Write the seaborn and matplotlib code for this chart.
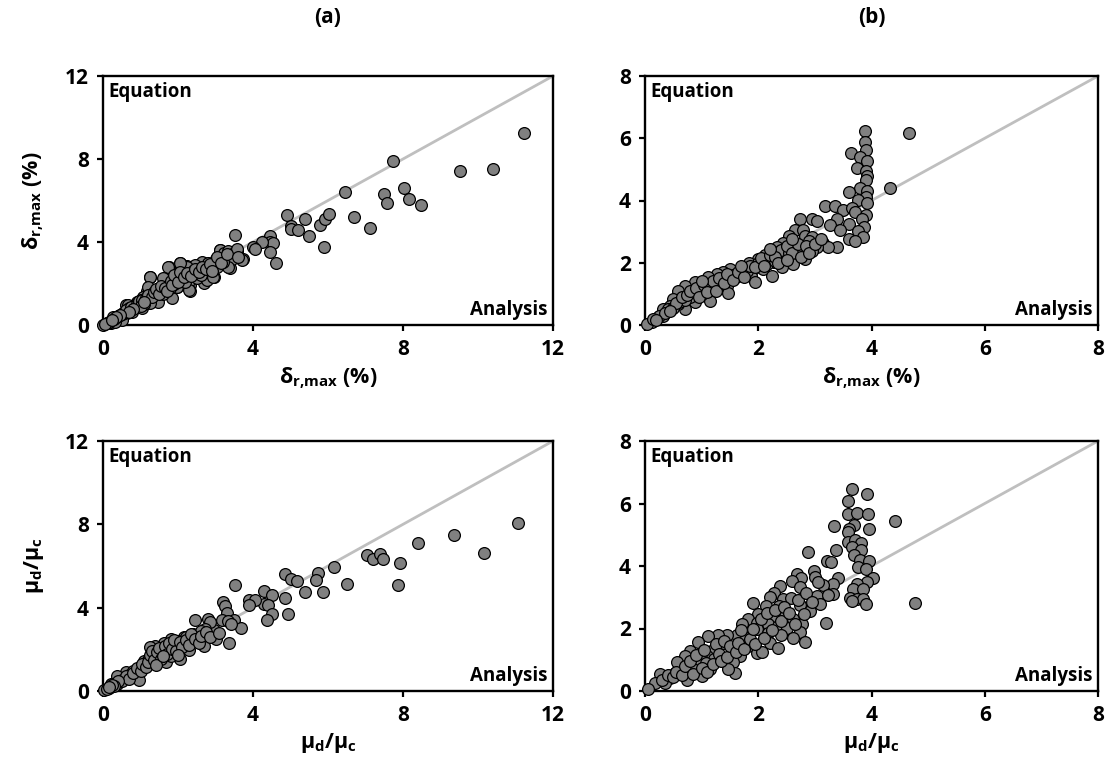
import numpy as np
import pandas as pd
import matplotlib
matplotlib.use("Agg")
import matplotlib.pyplot as plt
import seaborn as sns

# ---- data ----
# (a) top: delta_r,max analysis vs equation
a_top_x = [11.22, 7.72, 9.51, 10.4, 8.04, 7.48, 7.57, 8.15, 8.48, 6.44, 6.68, 7.13, 4.91, 5.38, 5.02, 5.0,
           5.19, 5.50, 5.79, 5.93, 6.02, 5.88, 4.46, 4.46, 4.53, 4.46, 4.61, 4.24, 4.0, 4.04, 3.53, 3.57,
           3.72, 3.44, 3.38, 3.13, 3.22, 2.95, 2.95, 2.68, 2.68, 2.51, 2.33, 2.31, 2.24, 2.04, 1.76, 1.80,
           1.26, 1.84, 2.11, 1.96, 1.71, 1.44, 1.17, 1.08, 0.91, 0.6, 0.64, 0.37, 0.2,
           3.12, 3.23, 3.34, 3.48, 3.56, 3.43, 3.70, 3.34, 3.21, 2.94, 3.03, 2.81, 2.63, 2.59, 2.67, 2.45,
           2.41, 2.32, 2.28, 2.23, 2.05, 2.10, 1.96, 1.88, 1.74, 1.70, 1.61, 1.52, 1.43, 1.34, 1.25, 1.21,
           1.17, 1.07, 0.99, 0.90, 0.81, 0.67, 0.63, 0.54, 0.45, 0.36, 0.27, 0.19, 0.10, 0.01, 1.47, 1.79,
           2.19, 2.50, 2.76, 2.94, 1.25, 1.03, 0.77, 0.50, 0.32,
           1.0, 1.1, 1.3, 1.5, 1.6, 1.9, 2.0, 2.2, 2.4, 2.6, 2.8, 3.0, 0.7, 0.85, 0.4, 0.55, 0.3, 0.15, 0.05,
           0.5, 0.6, 0.75, 0.9, 0.95, 1.05, 1.15, 1.2, 1.3, 1.35, 1.4, 1.5, 1.55, 1.65, 1.7, 1.8, 1.85, 1.9,
           2.0, 2.05, 2.15, 2.25, 2.35, 2.45, 2.55, 2.65, 2.75, 2.85, 3.05, 3.15, 1.0, 1.1, 0.8, 0.7, 0.45,
           0.35, 0.25, 2.9, 3.3, 3.6]
a_top_y = [9.27, 7.92, 7.42, 7.50, 6.62, 6.31, 5.86, 6.06, 5.80, 6.39, 5.20, 4.69, 5.32, 5.09, 4.79, 4.61,
           4.58, 4.29, 4.84, 5.09, 5.37, 3.76, 4.29, 4.02, 3.94, 3.50, 2.99, 4.02, 3.78, 3.66, 4.34, 3.58,
           3.16, 3.21, 2.76, 3.61, 3.29, 2.81, 2.30, 3.00, 2.04, 2.65, 1.93, 1.64, 2.86, 2.97, 2.78, 2.49,
           2.33, 1.29, 2.49, 1.85, 2.01, 1.53, 1.65, 1.04, 0.88, 0.96, 0.59, 0.32, 0.11,
           3.61, 3.49, 3.58, 3.45, 3.65, 3.16, 3.13, 2.81, 3.05, 2.97, 2.81, 2.65, 3.05, 2.65, 2.41, 2.89,
           2.49, 2.17, 1.69, 2.81, 2.97, 2.49, 1.85, 2.33, 2.81, 2.01, 2.25, 1.69, 1.53, 1.36, 2.33, 1.85,
           1.20, 1.36, 1.05, 1.12, 0.88, 0.96, 0.72, 0.56, 0.48, 0.32, 0.40, 0.16, 0.08, 0.0, 1.12, 1.77,
           2.09, 2.25, 2.17, 2.33, 1.05, 0.80, 0.64, 0.24, 0.16,
           1.2, 1.0, 1.5, 1.7, 1.5, 2.0, 2.2, 2.4, 2.6, 2.4, 3.0, 3.2, 0.8, 0.95, 0.45, 0.6, 0.3, 0.15, 0.05,
           0.55, 0.7, 0.85, 1.0, 1.15, 1.2, 1.3, 1.45, 1.35, 1.6, 1.75, 1.5, 1.9, 1.8, 1.65, 2.1, 1.95, 2.4,
           2.05, 2.55, 2.3, 2.5, 2.35, 2.7, 2.55, 2.8, 2.7, 2.95, 3.3, 3.0, 0.9, 1.1, 0.75, 0.65, 0.5,
           0.4, 0.25, 2.6, 3.4, 3.3]

# (b) top
b_top_x = [3.89, 4.67, 3.89, 3.91, 3.64, 3.80, 3.92, 3.75, 3.91, 3.92, 3.91, 4.33, 3.79, 3.92, 3.61, 3.91,
           3.77, 3.92, 3.18, 3.36, 3.49, 3.65, 3.71, 3.91, 3.83, 2.74, 2.95, 3.03, 3.39, 3.27, 3.61, 3.86,
           3.45, 3.76, 2.65, 2.79, 2.55, 2.83, 2.95, 3.85, 3.61, 3.70, 2.89, 3.15, 3.39, 3.24, 3.03, 2.44,
           2.33, 2.81, 2.95, 2.71, 2.47, 2.27, 2.83, 2.62, 2.42, 2.27, 2.12, 1.99, 1.91, 2.08, 2.24, 1.88,
           1.94, 1.71, 1.83, 1.50, 1.38, 1.27, 1.61, 1.44, 1.47, 1.12, 1.27, 1.15, 1.06, 0.88, 0.94, 0.88,
           0.71, 0.59, 0.80, 0.71, 0.59, 0.50, 0.44, 0.32, 0.32, 0.21, 0.12, 0.03,
           1.0, 1.2, 1.35, 1.55, 1.7, 1.8, 2.0, 2.15, 2.3, 2.4, 2.55, 0.6, 0.7, 0.4, 0.25, 0.15,
           0.5, 0.55, 0.65, 0.75, 0.8, 0.9, 0.95, 1.05, 1.1, 1.2, 1.25, 1.3, 1.4, 1.45, 1.55, 1.65, 1.75,
           1.85, 1.95, 2.05, 2.1, 2.2, 2.3, 2.35, 2.5, 2.6, 2.7, 2.75, 2.85, 2.9, 3.0, 3.1, 2.6, 2.5, 0.35,
           0.45, 0.2, 1.0, 1.7, 2.2]
b_top_y = [6.22, 6.17, 5.87, 5.63, 5.53, 5.40, 5.26, 5.03, 4.94, 4.78, 4.67, 4.41, 4.41, 4.30, 4.27, 4.12,
           4.03, 3.93, 3.82, 3.82, 3.71, 3.77, 3.63, 3.52, 3.41, 3.39, 3.41, 3.34, 3.39, 3.20, 3.26, 3.15,
           3.05, 3.02, 3.05, 3.05, 2.86, 2.86, 2.84, 2.84, 2.75, 2.70, 2.70, 2.62, 2.52, 2.49, 2.49, 2.65,
           2.49, 2.49, 2.38, 2.29, 2.22, 2.33, 2.11, 1.95, 1.87, 2.01, 2.24, 2.13, 1.79, 1.79, 1.58, 1.58,
           1.37, 1.85, 1.98, 1.81, 1.69, 1.63, 1.53, 1.26, 1.02, 1.53, 1.28, 0.78, 1.15, 1.39, 1.05, 0.73,
           1.26, 1.10, 0.89, 0.51, 0.67, 0.83, 0.62, 0.51, 0.30, 0.21, 0.11, 0.03,
           1.0, 1.2, 1.45, 1.6, 1.6, 1.75, 2.0, 1.95, 2.05, 2.4, 2.3, 0.75, 0.8, 0.5, 0.3, 0.2,
           0.55, 0.7, 0.9, 0.95, 1.1, 1.2, 0.9, 1.3, 1.05, 1.4, 1.1, 1.5, 1.35, 1.65, 1.45, 1.7, 1.55,
           1.9, 1.85, 2.15, 1.9, 2.25, 2.2, 2.0, 2.55, 2.3, 2.6, 2.2, 2.55, 2.3, 2.6, 2.75, 2.75, 2.1, 0.4,
           0.45, 0.15, 1.4, 1.9, 2.45]

# (a) bottom: mu_d/mu_c
a_bot_x = [11.06, 9.35, 8.40, 10.15, 7.03, 7.21, 7.38, 7.47, 7.93, 7.87, 6.17, 6.51, 5.74, 5.68, 4.84, 5.01,
           5.17, 5.39, 5.87, 4.85, 4.94, 3.51, 4.28, 4.50, 4.28, 4.41, 4.50, 4.37, 3.90, 4.06, 3.88, 3.19,
           3.26, 3.30, 3.17, 3.48, 3.32, 3.68, 3.37, 3.02, 2.96, 2.79, 2.86, 2.72, 2.44, 2.41, 2.50, 2.68,
           2.28, 2.32, 2.04, 2.15, 1.82, 1.78, 1.62, 1.57, 1.39, 1.26, 1.24, 1.44, 1.69, 1.08, 1.04, 0.90,
           0.77, 0.95, 0.62, 0.55, 0.37, 0.37, 0.20, 0.15, 0.02,
           1.1, 1.2, 1.3, 1.5, 1.7, 1.9, 2.0, 2.2, 2.4, 0.7, 0.8, 0.5, 0.3, 0.1, 1.0, 1.6, 1.8, 2.6,
           0.5, 0.6, 0.7, 0.8, 0.9, 1.0, 1.05, 1.15, 1.2, 1.25, 1.3, 1.35, 1.45, 1.5, 1.55, 1.65, 1.7, 1.75,
           1.85, 1.9, 1.95, 2.05, 2.1, 2.2, 2.3, 2.35, 2.45, 2.55, 2.6, 2.75, 2.85, 3.1, 3.4, 0.4, 0.3, 0.25,
           0.15, 1.4, 1.6, 2.0]
a_bot_y = [8.08, 7.47, 7.10, 6.64, 6.51, 6.35, 6.56, 6.35, 6.14, 5.07, 5.95, 5.15, 5.66, 5.34, 5.60, 5.36,
           5.26, 4.75, 4.75, 4.48, 3.68, 5.07, 4.80, 4.59, 4.19, 4.11, 3.68, 3.42, 4.35, 4.35, 4.11, 4.27,
           4.06, 3.74, 3.42, 3.42, 3.34, 3.04, 2.30, 2.51, 2.91, 3.47, 3.31, 3.00, 3.42, 2.75, 2.51, 2.14,
           1.95, 2.30, 1.55, 2.59, 2.51, 1.82, 2.30, 1.79, 2.14, 2.11, 1.63, 1.60, 1.39, 1.44, 1.12, 0.99,
           0.80, 0.54, 0.91, 0.64, 0.70, 0.35, 0.35, 0.14, 0.06,
           1.3, 1.5, 1.6, 1.8, 2.0, 2.2, 2.4, 2.6, 2.7, 0.75, 0.95, 0.55, 0.35, 0.1, 1.15, 1.9, 1.7, 2.9,
           0.5, 0.7, 0.6, 0.85, 1.1, 0.95, 1.3, 1.15, 1.4, 1.75, 1.9, 1.5, 1.85, 2.05, 1.55, 2.15, 1.8, 2.3,
           2.0, 2.45, 1.9, 2.35, 2.1, 2.45, 2.2, 2.75, 2.5, 2.3, 2.65, 2.85, 2.6, 2.8, 3.2, 0.5, 0.25, 0.3,
           0.2, 1.25, 1.7, 1.75]

# (b) bottom
b_bot_x = [3.66, 3.92, 3.58, 3.59, 3.75, 3.93, 4.42, 3.34, 3.69, 3.61, 3.96, 3.58, 3.58, 3.71, 3.82, 3.66,
           3.82, 3.69, 2.88, 3.37, 3.21, 3.29, 3.79, 3.95, 3.77, 3.91, 2.99, 3.0, 3.41, 4.02, 2.68, 2.76,
           2.59, 2.74, 3.32, 3.92, 3.14, 3.75, 3.68, 3.85, 2.39, 2.27, 2.21, 3.32, 3.03, 3.24, 3.62, 3.75,
           3.85, 3.90, 3.09, 4.76, 3.65, 2.44, 2.57, 2.74, 2.91, 1.90, 2.13, 2.37, 2.0, 1.82, 2.26, 2.48,
           2.62, 2.78, 3.19, 1.71, 1.97, 2.18, 2.35, 2.50, 2.74, 1.98, 2.18, 2.41, 2.62, 2.82, 2.21, 2.34,
           1.62, 1.45, 1.29, 1.12, 0.94, 1.38, 1.53, 1.78, 1.82, 1.97, 2.06, 1.68, 1.55, 1.59, 1.47, 1.21,
           1.09, 1.22, 0.99, 0.91, 1.08, 1.15, 1.0, 0.79, 0.71, 0.56, 0.85, 0.68, 0.53, 0.44, 0.26, 0.35,
           0.18, 0.74, 0.06,
           0.3, 0.4, 0.5, 0.55, 0.65, 0.7, 0.8, 0.85, 0.9, 1.0, 1.05, 1.1, 1.2, 1.25, 1.3, 1.35, 1.4, 1.45,
           1.5, 1.6, 1.65, 1.7, 1.75, 1.85, 1.9, 1.95, 2.05, 2.1, 2.15, 2.25, 2.3, 2.4, 2.45, 2.55, 2.65,
           2.7, 2.8, 2.85, 2.95, 3.05]
b_bot_y = [6.45, 6.29, 6.07, 5.67, 5.71, 5.65, 5.44, 5.28, 5.30, 5.17, 5.19, 5.09, 4.78, 4.83, 4.73, 4.62,
           4.51, 4.34, 4.46, 4.51, 4.16, 4.13, 4.19, 4.16, 3.98, 3.89, 3.84, 3.66, 3.63, 3.63, 3.73, 3.63,
           3.52, 3.34, 3.43, 3.49, 3.38, 3.43, 3.25, 3.25, 3.36, 3.15, 3.02, 3.09, 3.04, 3.06, 2.99, 2.95,
           2.93, 2.77, 2.77, 2.83, 2.88, 2.93, 2.99, 2.74, 2.56, 2.83, 2.72, 2.72, 2.45, 2.31, 2.35, 2.40,
           2.29, 2.13, 2.19, 2.13, 2.19, 2.13, 2.08, 2.03, 1.89, 1.97, 1.87, 1.78, 1.71, 1.58, 1.55, 1.39,
           1.78, 1.78, 1.79, 1.76, 1.57, 1.55, 1.33, 1.71, 1.44, 1.23, 1.25, 1.12, 0.93, 0.59, 0.71, 1.33,
           1.12, 1.03, 1.07, 0.91, 0.91, 0.69, 0.48, 1.28, 1.12, 0.93, 0.71, 0.64, 0.57, 0.43, 0.53, 0.27,
           0.27, 0.35, 0.05,
           0.35, 0.5, 0.45, 0.6, 0.5, 0.8, 0.95, 0.55, 1.15, 0.75, 1.3, 0.6, 0.85, 1.5, 1.2, 0.95, 1.6, 1.1,
           1.45, 1.25, 1.55, 1.95, 1.35, 1.65, 2.0, 1.5, 2.3, 1.7, 2.5, 1.95, 2.6, 2.25, 2.7, 2.5, 2.15,
           2.9, 2.45, 3.15, 2.85, 3.5]

diag = [0, 12]
panel_titles = ["(a)", "(b)"]

sns.set_style("ticks")
plt.rcParams["font.family"] = ["Open Sans", "DejaVu Sans"]
plt.rcParams["font.weight"] = "bold"
plt.rcParams["axes.titleweight"] = "bold"
plt.rcParams["axes.labelweight"] = "bold"
plt.rcParams["text.color"] = "black"
plt.rcParams["axes.labelcolor"] = "black"
plt.rcParams["xtick.color"] = "black"
plt.rcParams["ytick.color"] = "black"
plt.rcParams["mathtext.fontset"] = "custom"
plt.rcParams["mathtext.rm"] = "Open Sans:bold"
plt.rcParams["mathtext.it"] = "Open Sans:bold"
plt.rcParams["mathtext.bf"] = "Open Sans:bold"

fig = plt.figure(figsize=(11.09, 7.75), dpi=100)
W, H = 1109, 775
boxes = {
    (0, 0): (103, 76, 553, 325),
    (0, 1): (645, 76, 1098, 325),
    (1, 0): (103, 441, 553, 691),
    (1, 1): (645, 441, 1098, 691),
}

delta_lab = r"$\mathrm{\delta_{r{,}max}}$ (%)"
mu_lab = r"$\mathrm{\mu_d/\mu_c}$"

panels = [
    ((0, 0), a_top_x, a_top_y, 12, [0, 4, 8, 12], delta_lab),
    ((0, 1), b_top_x, b_top_y, 8, [0, 2, 4, 6, 8], delta_lab),
    ((1, 0), a_bot_x, a_bot_y, 12, [0, 4, 8, 12], mu_lab),
    ((1, 1), b_bot_x, b_bot_y, 8, [0, 2, 4, 6, 8], mu_lab),
]

for key, xs, ys, lim, ticks, lab in panels:
    x0, y0, x1, y1 = boxes[key]
    ax = fig.add_axes([x0 / W, 1 - y1 / H, (x1 - x0) / W, (y1 - y0) / H])
    d = [v * lim / 12 for v in diag]
    sns.lineplot(x=d, y=d, ax=ax, color="#bfbfbf", linewidth=2.0, zorder=1)
    df = pd.DataFrame({"x": xs, "y": ys})
    sns.scatterplot(data=df, x="x", y="y", ax=ax, color="#808080", edgecolor="black",
                    linewidth=0.9, s=72, zorder=3, clip_on=False)
    ax.set_xlim(0, lim)
    ax.set_ylim(0, lim)
    ax.set_xticks(ticks)
    ax.set_yticks(ticks)
    ax.tick_params(direction="out", length=4, width=1.6, labelsize=15, pad=6)
    for sp in ax.spines.values():
        sp.set_visible(True)
        sp.set_linewidth(1.7)
        sp.set_color("black")
    ax.set_xlabel(lab, fontsize=15.5, fontweight="bold", labelpad=4)
    if key[1] == 0:
        ax.set_ylabel(lab, fontsize=15.5, fontweight="bold", labelpad=14)
    else:
        ax.set_ylabel("")
    ax.text(0.012, 0.975, "Equation", transform=ax.transAxes, ha="left", va="top",
            fontsize=13.5, fontweight="bold")
    ax.text(0.988, 0.02, "Analysis", transform=ax.transAxes, ha="right", va="bottom",
            fontsize=13.5, fontweight="bold")
    if key[0] == 0:
        ax.set_title(panel_titles[key[1]], fontsize=15, fontweight="bold", pad=38)

fig.savefig("out.png", dpi=100)
